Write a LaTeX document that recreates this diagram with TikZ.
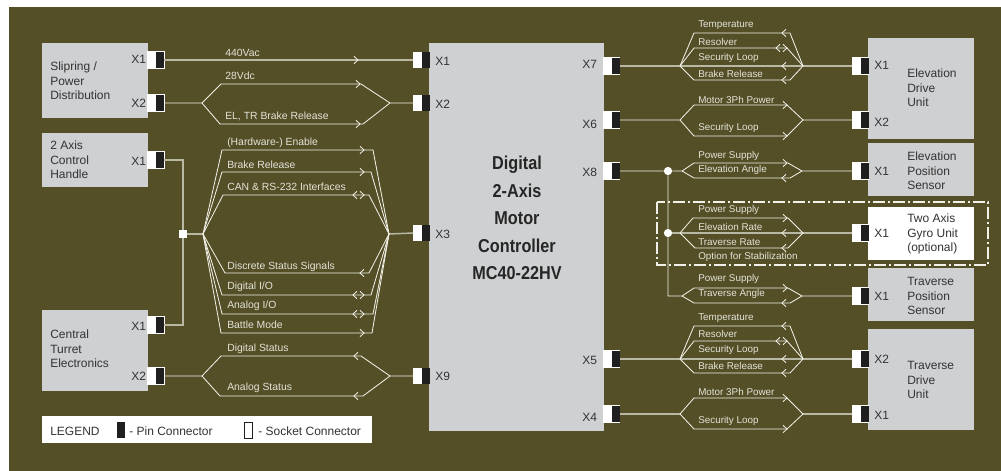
\documentclass[tikz,border=0pt]{standalone}
\usepackage{fontspec}
\setmainfont{Liberation Sans}
\usetikzlibrary{calc}
\definecolor{olive}{HTML}{544F27}
\definecolor{panel}{HTML}{CFD0D2}
\definecolor{ink}{HTML}{333333}
\definecolor{wirec}{HTML}{F2F1E8}
\definecolor{greyw}{HTML}{B9B8A4}
\definecolor{labelc}{HTML}{E4E3D8}
\tikzset{
  blockbox/.style={fill=panel,draw=none,inner sep=0pt,outer sep=0pt,anchor=north west},
  boxtext/.style={text=ink,font=\fontsize{9pt}{11pt}\selectfont,align=left,anchor=west,inner sep=0pt},
  porttext/.style={text=ink,font=\fontsize{9pt}{10pt}\selectfont,anchor=west,inner sep=0pt},
  sigleft/.style={text=labelc,font=\fontsize{7.8pt}{9pt}\selectfont,anchor=west,inner sep=0pt},
  sigright/.style={text=labelc,font=\fontsize{7.4pt}{9pt}\selectfont,anchor=west,inner sep=0pt},
  legendtext/.style={text=ink,font=\fontsize{9pt}{10pt}\selectfont,anchor=west,inner sep=0pt},
  wire/.style={draw=wirec,line width=0.62pt,line join=miter},
  thickwire/.style={draw=greyw,line width=1.1pt},
  tip/.style={draw=wirec,line width=0.62pt},
  whitepart/.style={fill=white,draw=none,minimum width=6.4pt,minimum height=12.6pt,inner sep=0pt,outer sep=0pt},
  pin/.style={fill=black!88,draw=none,minimum width=6.4pt,minimum height=12.6pt,inner sep=0pt,outer sep=0pt},
}
% plug with outline on three sides (left-hand units)
\newcommand{\plugR}[3]{%
  \node[whitepart,anchor=west] (#1w) at (#2,#3) {};
  \node[pin,anchor=west] (#1) at (#1w.east) {};
  \draw[white,line width=0.5pt] (#1w.north west) -- (#1.north east) -- (#1.south east) -- (#1w.south west);
}
% plug with outline on top and bottom only
\newcommand{\plugM}[3]{%
  \node[whitepart,anchor=west] (#1w) at (#2,#3) {};
  \node[pin,anchor=west] (#1) at (#1w.east) {};
  \draw[white,line width=0.5pt] (#1w.north west) -- (#1.north east) (#1.south east) -- (#1w.south west);
}
\newcommand{\plugL}[3]{%
  \node[whitepart,anchor=west] (#1w) at (#2,#3) {};
  \node[pin,anchor=west] (#1) at (#1w.east) {};
}
\newcommand{\tipR}[2]{\draw[tip] (#1-4,#2-3.7) -- (#1,#2) -- (#1-4,#2+3.7);}
\newcommand{\tipL}[2]{\draw[tip] (#1+4,#2-3.7) -- (#1,#2) -- (#1+4,#2+3.7);}
\newcommand{\tipB}[2]{\tipL{#1}{#2}\tipR{#1+11}{#2}}
\begin{document}
\begin{tikzpicture}[x=0.75pt,y=-0.75pt]
\useasboundingbox (0,0) rectangle (1001,471);
\fill[white] (0,0) rectangle (1001,471);
\fill[olive] (9,7) rectangle (1001,471);
% blocks
\node[blockbox,minimum width=79.5pt,minimum height=56.25pt] (slip) at (42,43) {};
\node[blockbox,minimum width=79.5pt,minimum height=40.5pt] (handle) at (42,133) {};
\node[blockbox,minimum width=79.5pt,minimum height=60.75pt] (cte) at (42,310) {};
\node[blockbox,minimum width=131.25pt,minimum height=291pt] (mc) at (429,43) {};
\node[blockbox,minimum width=79.5pt,minimum height=75.75pt] (edu) at (868,38) {};
\node[blockbox,minimum width=79.5pt,minimum height=39.75pt] (eps) at (868,143) {};
\node[blockbox,fill=white,minimum width=79.5pt,minimum height=39.75pt] (gyro) at (868,207) {};
\node[blockbox,minimum width=79.5pt,minimum height=39.75pt] (tps) at (868,268) {};
\node[blockbox,minimum width=79.5pt,minimum height=75.75pt] (tdu) at (868,329) {};
\node[blockbox,fill=white,minimum width=247.5pt,minimum height=20.25pt] (legend) at (42,416) {};
% block text
\node[boxtext] (t1) at (50,81) {Slipring /\\Power\\Distribution};
\node[boxtext] (t2) at (50,160) {2 Axis\\Control\\Handle};
\node[boxtext] (t3) at (50,349) {Central\\Turret\\Electronics};
\node[boxtext] (t4) at (907,88) {Elevation\\Drive\\Unit};
\node[boxtext] (t5) at (907,171) {Elevation\\Position\\Sensor};
\node[boxtext] (t6) at (907,234) {Two Axis\\Gyro Unit\\(optional)};
\node[boxtext] (t7) at (907,296) {Traverse\\Position\\Sensor};
\node[boxtext] (t8) at (907,380) {Traverse\\Drive\\Unit};
\node[text=black!85,font=\bfseries\fontsize{14pt}{20.6pt}\selectfont,align=center,inner sep=0pt,xscale=0.87] (title) at (517,218) {Digital\\2-Axis\\Motor\\Controller\\MC40-22HV};
% plugs
\plugR{sA}{147}{60}\plugR{sB}{147}{103}\plugR{hA}{147}{160}\plugR{cA}{147}{325}\plugR{cB}{147}{376}
\plugL{mX1}{413}{60}\plugL{mX2}{413}{103}\plugL{mX3}{413}{233}\plugL{mX9}{413}{376}
\plugM{mX7}{603}{66}\plugM{mX6}{603}{120}\plugM{mX8}{603}{171}\plugM{mX5}{603}{359}\plugM{mX4}{603}{414}
\plugM{eA}{852}{66}\plugM{eB}{852}{120}\plugM{pA}{852}{171}\plugM{gA}{852}{233}\plugM{qA}{852}{296}\plugM{dB}{852}{359}\plugM{dA}{852}{414}
% port labels
\foreach \n/\x/\y/\s in {a/131/59/X1,b/131/103/X2,c/131/161/X1,d/131/326/X1,e/131/376/X2,
 f/435/61/X1,g/435/104/X2,h/435/234/X3,i/435/376/X9,
 j/582/64/X7,k/582/124/X6,l/582/172/X8,m/582/360/X5,n/582/417/X4,
 o/874/65/X1,p/874/122/X2,q/874/171/X1,r/874/233/X1,s/874/296/X1,u/874/359/X2,v/874/415/X1}
  \node[porttext] (port\n) at (\x,\y) {\s};
% single wire
\draw[thickwire] (sA.east) -- (mX1w.west);
\tipR{358}{60}
% Slipring X2
\coordinate (j1) at (202,103);\coordinate (j2) at (390,103);
\draw[wire] (sB.east) -- (j1) -- (221,84) -- (361,84) -- (j2) -- (mX2w.west);
\draw[wire] (j1) -- (220,124) -- (363,124) -- (j2);
\tipR{360}{84}\tipR{360}{124}
% trunk
\node[fill=white,minimum size=6pt,inner sep=0pt] (hub) at (183,234) {};
\draw[thickwire] (hA.east) -| (hub);
\draw[thickwire] (cA.east) -| (hub);
\coordinate (j3) at (203,234);\coordinate (j4) at (389,234);
\draw[thickwire] (hub) -- (j3);
\draw[thickwire] (j4) -- (mX3w.west);
\draw[wire] (j3) -- (222,150) -- (373,150) -- (j4);
\draw[wire] (j3) -- (222,172) -- (371,172) -- (j4);
\draw[wire] (j3) -- (223,195) -- (369,195) -- (j4);
\draw[wire] (j3) -- (225,273) -- (369,273) -- (j4);
\draw[wire] (j3) -- (222,295) -- (371,295) -- (j4);
\draw[wire] (j3) -- (222,314) -- (373,314) -- (j4);
\draw[wire] (j3) -- (221,333) -- (372,333) -- (j4);
\tipR{364}{150}\tipR{364}{172}\tipB{353}{195}\tipL{360}{273}\tipB{353}{295}\tipB{353}{314}\tipR{364}{333}
% X9
\coordinate (j5) at (202,376);\coordinate (j6) at (390,376);
\draw[wire] (cB.east) -- (j5) -- (221,356) -- (361,356) -- (j6) -- (mX9w.west);
\draw[wire] (j5) -- (220,396) -- (363,396) -- (j6);
\tipL{354}{356}\tipL{354}{396}
% X7
\coordinate (j7) at (680,66);\coordinate (j8) at (803,66);
\draw[thickwire] (mX7.east) -- (eAw.west);
\draw[wire] (j7) -- (694,33) -- (790,33) -- (j8);
\draw[wire] (j7) -- (694,48) -- (787,48) -- (j8);
\draw[wire] (j7) -- (694,80) -- (790,80) -- (j8);
\tipL{782}{33}\tipB{776}{48}\tipL{782}{66}\tipL{782}{80}
% X6
\coordinate (j9) at (680,120);\coordinate (j10) at (803,120);
\draw[wire] (mX6.east) -- (j9) -- (694,105) -- (787,105) -- (j10) -- (eBw.west);
\draw[wire] (j9) -- (694,136) -- (787,136) -- (j10);
\tipR{787}{105}\tipR{787}{136}
% X8 and branches
\node[circle,fill=white,minimum size=6.2pt,inner sep=0pt] (d1) at (668,171) {};
\node[circle,fill=white,minimum size=6.2pt,inner sep=0pt] (d2) at (668,233) {};
\coordinate (j11) at (682,171);\coordinate (j12) at (802,171);
\coordinate (j13) at (680,233);\coordinate (j14) at (803,233);
\coordinate (j15) at (682,296);\coordinate (j16) at (802,296);
\draw[wire] (mX8.east) -- (d1) -- (j11) -- (694,163) -- (788,163) -- (j12) -- (pAw.west);
\draw[wire] (j11) -- (694,178) -- (790,178) -- (j12);
\tipR{787}{163}\tipL{782}{178}
\draw[wire] (d1) -- (d2) -- (668,296) -- (j15) -- (694,288) -- (788,288) -- (j16) -- (qAw.west);
\draw[wire] (j15) -- (694,303) -- (790,303) -- (j16);
\tipR{787}{288}\tipL{782}{303}
\draw[thickwire] (d2) -- (gAw.west);
\draw[wire] (j13) -- (693,218) -- (788,218) -- (j14);
\draw[wire] (j13) -- (695,248) -- (788,248) -- (j14);
\tipR{787}{218}\tipL{782}{233}\tipL{782}{248}
\draw[wire,line width=0.8pt,dash pattern=on 9pt off 2pt on 2pt off 2pt] (657,202) rectangle (988,265);
% X5
\coordinate (j17) at (680,359);\coordinate (j18) at (803,359);
\draw[thickwire] (mX5.east) -- (dBw.west);
\draw[wire] (j17) -- (694,326) -- (790,326) -- (j18);
\draw[wire] (j17) -- (694,341) -- (787,341) -- (j18);
\draw[wire] (j17) -- (694,373) -- (790,373) -- (j18);
\tipL{782}{326}\tipB{776}{341}\tipL{782}{359}\tipL{782}{373}
% X4
\coordinate (j19) at (680,414);\coordinate (j20) at (803,414);
\draw[thickwire] (mX4.east) -- (j19);
\draw[thickwire] (j20) -- (dAw.west);
\draw[wire] (j19) -- (694,398) -- (787,398) -- (j20);
\draw[wire] (j19) -- (694,429) -- (787,429) -- (j20);
\tipR{787}{398}\tipR{787}{429}
% signal labels
\foreach \n/\x/\y/\s in {
 a/225/53/440Vac,b/225/76/28Vdc,c/225/116/{EL, TR Brake Release},
 d/227/143/(Hardware-) Enable,e/227/165/Brake Release,f/227/187/{CAN \& RS-232 Interfaces},
 g/227/267/Discrete Status Signals,h/227/287/{Digital I/O},i/227/306/{Analog I/O},j/227/325/Battle Mode,
 k/227/349/Digital Status,l/227/388/Analog Status}
  \node[sigleft] (lab\n) at (\x,\y) {\s};
\foreach \n/\x/\y/\s in {
 m/698/25/Temperature,n/698/42/Resolver,o/698/58/Security Loop,p/698/74/Brake Release,
 q/698/100/Motor 3Ph Power,r/698/128/Security Loop,
 s/698/156/Power Supply,t/698/170/Elevation Angle,
 u/698/210/Power Supply,v/698/227/Elevation Rate,w/698/242/Traverse Rate,x/698/257/Option for Stabilization,
 y/698/279/Power Supply,z/698/294/Traverse Angle,
 A/698/318/Temperature,B/698/334/Resolver,C/698/350/Security Loop,D/698/366/Brake Release,
 E/698/392/Motor 3Ph Power,F/698/421/Security Loop}
  \node[sigright] (lab\n) at (\x,\y) {\s};
% legend
\node[legendtext] (lg1) at (50,431) {LEGEND};
\node[fill=black!88,minimum width=6pt,minimum height=12pt,inner sep=0pt,anchor=west] (lg2) at (117,430) {};
\node[legendtext] (lg3) at (129,431) {- Pin Connector};
\node[fill=white,draw=black!88,line width=0.5pt,minimum width=6pt,minimum height=12pt,inner sep=0pt,anchor=west] (lg4) at (244,430) {};
\node[legendtext] (lg5) at (258,431) {- Socket Connector};
\end{tikzpicture}
\end{document}
